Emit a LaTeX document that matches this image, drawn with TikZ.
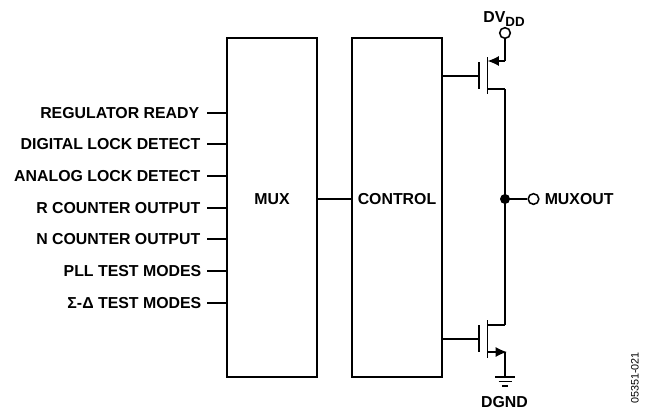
\documentclass[tikz,border=0pt]{standalone}
\usepackage{fontspec}
\setmainfont{Liberation Sans}
\usetikzlibrary{arrows.meta}

\begin{document}
\begin{tikzpicture}[x=0.75pt,y=-0.75pt,line width=1.15pt,
block/.style={draw, minimum width=67.5pt, minimum height=254.25pt, inner sep=0pt},
sig/.style={inner sep=0pt, font=\fontsize{11.9}{14}\bfseries\selectfont},
pin/.style={draw, circle, fill=white, minimum size=8pt, inner sep=0pt},
mos/.style={line width=1.3pt},
tip/.style={-{Latex[length=8.5pt,width=7.5pt]}}]

\useasboundingbox (0,0) rectangle (646,411);

\node[block] (mux) at (272,207.5) {};
\node[block] (control) at (397,207.5) {};

\coordinate (muxout) at (317,199);
\node[sig] (muxlab) at (mux.center |- muxout) {MUX};
\node[sig] (controllab) at (control.center |- muxout) {CONTROL};
\draw (muxout) -- (muxout -| control.west);

\node[sig, anchor=east] (reg) at (200,113) {REGULATOR READY};
\node[sig, anchor=east] (dig) at (201,144) {DIGITAL LOCK DETECT};
\node[sig, anchor=east] (ana) at (201,176) {ANALOG LOCK DETECT};
\node[sig, anchor=east] (rcnt) at (201,208) {R COUNTER OUTPUT};
\node[sig, anchor=east] (ncnt) at (201,239) {N COUNTER OUTPUT};
\node[sig, anchor=east] (pll) at (202,271) {PLL TEST MODES};
\node[sig, anchor=east] (sd) at (202,303) {Σ-Δ TEST MODES};

\draw (reg.east)  +(7,0) coordinate (regin)  -- (regin -| mux.west);
\draw (dig.east)  +(6,0) coordinate (digin)  -- (digin -| mux.west);
\draw (ana.east)  +(6,0) coordinate (anain)  -- (anain -| mux.west);
\draw (rcnt.east) +(6,0) coordinate (rcntin) -- (rcntin -| mux.west);
\draw (ncnt.east) +(6,0) coordinate (ncntin) -- (ncntin -| mux.west);
\draw (pll.east)  +(5,0) coordinate (pllin)  -- (pllin -| mux.west);
\draw (sd.east)   +(5,0) coordinate (sdin)   -- (sdin -| mux.west);

% top transistor
\node[pin] (vdd) at (505,33) {};
\node[sig, anchor=base] (vddlab) at (504,22) {DV\raisebox{-3.2pt}{\fontsize{10}{12}\selectfont DD}};
\coordinate (tgate) at (479,76);
\coordinate (tsource) at (505,61);
\coordinate (tdrain) at (505,89);
\draw (tgate -| control.east) -- (tgate);
\draw[mos] (479,62) -- (479,89);
\draw[mos] (487.5,57) -- (487.5,94);
\draw (vdd) -- (tsource);
\draw[tip] (tsource) -- (487.5,61);
\draw (487.5,89) -- (tdrain);

% bottom transistor
\coordinate (bgate) at (479,339);
\coordinate (bdrain) at (505,325);
\coordinate (bsource) at (505,352);
\draw (bgate -| control.east) -- (bgate);
\draw[mos] (479,325) -- (479,352);
\draw[mos] (487.5,320) -- (487.5,358);
\draw (487.5,325) -- (bdrain);
\draw[tip] (487.5,352) -- (507,352);

\draw (tdrain) -- (bdrain);

% output
\node[pin] (out) at (533.5,199) {};
\node[sig, anchor=west] (outlab) at (544,199) {MUXOUT};
\fill (505,199) circle (5) coordinate (jct);
\draw (jct) -- (out);

% ground
\coordinate (gnd) at (505,377);
\draw (bsource) -- (gnd);
\draw (495,377) -- (515,377);
\draw (498.5,381.5) -- (511.5,381.5);
\draw (502,386) -- (508,386);
\node[sig, anchor=base] (dgnd) at (504.5,407) {DGND};

\node[inner sep=0pt, rotate=90, font=\fontsize{8.1}{10}\selectfont] (fig) at (635,378) {05351-021};
\end{tikzpicture}
\end{document}
